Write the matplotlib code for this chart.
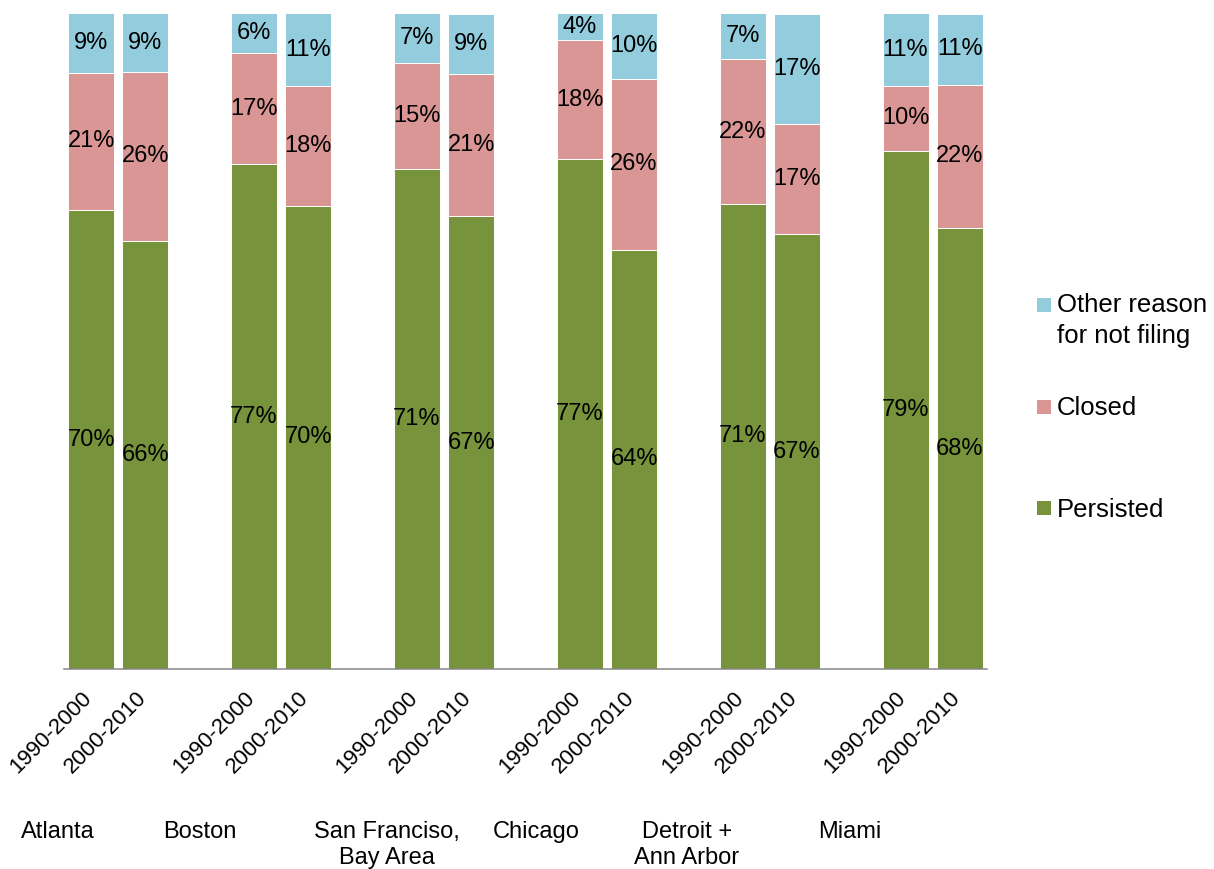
import matplotlib
matplotlib.use("Agg")
import matplotlib.pyplot as plt
from matplotlib.patches import Rectangle
from matplotlib.transforms import ScaledTranslation
import numpy as np

plt.rcParams['font.family'] = ['Liberation Sans', 'DejaVu Sans']

# Metro areas and the two decades compared for each
cities = ["Atlanta", "Boston", "San Franciso,\nBay Area", "Chicago",
          "Detroit +\nAnn Arbor", "Miami"]
periods = ["1990-2000", "2000-2010"]

# Outcome shares (%) per bar, ordered city by city, 1990-2000 then 2000-2010
persisted = [70, 66, 77, 70, 71, 67, 77, 64, 71, 67, 79, 68]
closed = [21, 26, 17, 18, 15, 21, 18, 26, 22, 17, 10, 22]
other = [9, 9, 6, 11, 7, 9, 4, 10, 7, 17, 11, 11]

series_names = ["Persisted", "Closed", "Other reason\nfor not filing"]
series_colors = ["#77933C", "#D99694", "#93CDDD"]

W, H = 1214, 869
fig = plt.figure(figsize=(W / 100, H / 100), dpi=100)
ax_l, ax_r, ax_t, ax_b = 64, 987, 13.5, 669.3
ax = fig.add_axes([ax_l / W, 1 - ax_b / H, (ax_r - ax_l) / W, (ax_b - ax_t) / H])

# bar positions: two bars per city, one empty slot between cities
x = np.array([3 * g + i for g in range(len(cities)) for i in range(len(periods))])

values = np.array([persisted, closed, other], dtype=float)
totals = values.sum(axis=0)
shares = values / totals * 100.0  # 100% stacked

bottom = np.zeros(len(x))
for k in range(3):
    ax.bar(x, shares[k], bottom=bottom, width=0.847, color=series_colors[k],
           edgecolor="white", linewidth=0.7, zorder=2)
    for xi, b, h, v in zip(x, bottom, shares[k], values[k]):
        ax.text(xi, b + h / 2, f"{v:.0f}%", ha="center", va="center",
                fontsize=17, color="black", zorder=3)
    bottom += shares[k]

ax.set_xlim(-0.5, 16.5)
ax.set_ylim(0, 100)
ax.set_yticks([])
for s in ("left", "right", "top"):
    ax.spines[s].set_visible(False)
ax.spines["bottom"].set_color("#868686")
ax.spines["bottom"].set_linewidth(1.1)
ax.spines["bottom"].set_zorder(3)

ax.set_xticks(x)
ax.set_xticklabels(periods * len(cities), rotation=45, ha="right",
                   rotation_mode="anchor", fontsize=16)
ax.tick_params(axis="x", length=0, pad=13)
shift = ScaledTranslation(-10 / 100, 0, fig.dpi_scale_trans)
for lab in ax.get_xticklabels():
    lab.set_transform(lab.get_transform() + shift)


def line_text(px, base_py, text, step, **kw):
    """Draw a multi-line label one line at a time, first baseline at base_py."""
    for j, line in enumerate(text.split("\n")):
        fig.text(px / W, 1 - (base_py + j * step) / H, line, va="baseline", **kw)


# city names under each pair of bars
city_px = [58, 200, 387, 536, 687, 850]
for name, px in zip(cities, city_px):
    line_text(px, 837.7, name, 26.5, ha="center", fontsize=17)

# legend, top entry first
legend_rows = [(2, 298.3, 312.3), (1, 400.0, 415.0), (0, 501.0, 516.7)]
for k, sq_top, base in legend_rows:
    fig.add_artist(Rectangle((1036.7 / W, 1 - (sq_top + 13.5) / H), 14.3 / W, 13.5 / H,
                             transform=fig.transFigure, facecolor=series_colors[k],
                             edgecolor="none"))
    line_text(1057, base, series_names[k], 31.0, ha="left", fontsize=18.5)

fig.savefig("out.png", dpi=100, facecolor="white")
